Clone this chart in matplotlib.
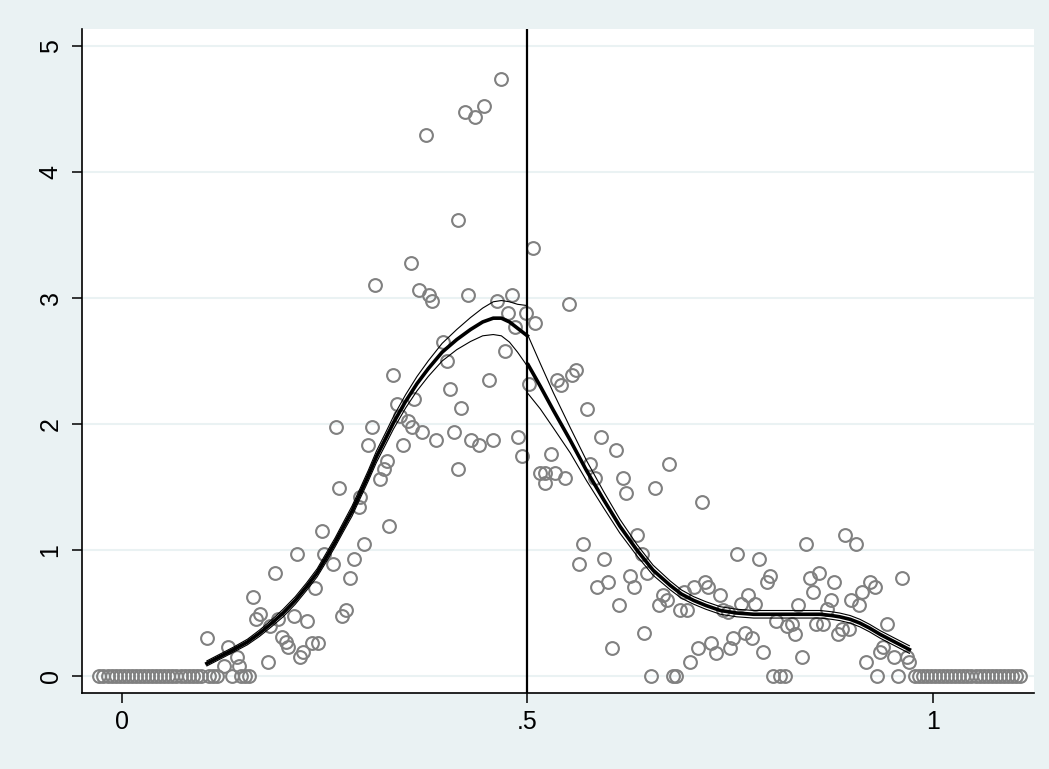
import numpy as np
import matplotlib.pyplot as plt

plt.rcParams['font.family'] = ['Liberation Sans', 'DejaVu Sans']

# Binned density points (x = bin midpoint, y = density)
pts_x = [0.105, 0.126, 0.131, 0.136, 0.142, 0.145, 0.162, 0.166, 0.170, 0.180,
         0.183, 0.189, 0.193, 0.197, 0.203, 0.205, 0.212, 0.216, 0.220, 0.224,
         0.228, 0.234, 0.238, 0.242, 0.247, 0.249, 0.260, 0.264, 0.268, 0.272,
         0.277, 0.281, 0.286, 0.292, 0.294, 0.299, 0.304, 0.308, 0.312, 0.318,
         0.323, 0.327, 0.330, 0.335, 0.339, 0.343, 0.347, 0.353, 0.357, 0.358,
         0.360, 0.366, 0.370, 0.375, 0.379, 0.383, 0.387, 0.396, 0.401, 0.405,
         0.410, 0.414, 0.415, 0.418, 0.423, 0.427, 0.431, 0.436, 0.441, 0.446,
         0.453, 0.458, 0.463, 0.467, 0.472, 0.476, 0.481, 0.485, 0.489, 0.494,
         0.498,
         0.502, 0.507, 0.510, 0.516, 0.522, 0.522, 0.529, 0.534, 0.537, 0.542,
         0.546, 0.551, 0.555, 0.560, 0.564, 0.569, 0.573, 0.577, 0.583, 0.586,
         0.591, 0.595, 0.600, 0.604, 0.609, 0.613, 0.618, 0.622, 0.626, 0.631,
         0.635, 0.641, 0.644, 0.647, 0.652, 0.657, 0.662, 0.667, 0.672, 0.675,
         0.680, 0.683, 0.688, 0.693, 0.697, 0.701, 0.705, 0.710, 0.715, 0.719,
         0.723, 0.727, 0.732, 0.737, 0.741, 0.748, 0.750, 0.754, 0.759, 0.763,
         0.768, 0.772, 0.777, 0.781, 0.785, 0.790, 0.795, 0.799, 0.803, 0.807,
         0.811, 0.818, 0.820, 0.826, 0.830, 0.834, 0.838, 0.844, 0.848, 0.852,
         0.856, 0.860, 0.865, 0.869, 0.874, 0.878, 0.883, 0.888, 0.892, 0.897,
         0.899, 0.905, 0.909, 0.913, 0.918, 0.922, 0.928, 0.931, 0.935, 0.939,
         0.944, 0.952, 0.957, 0.962, 0.968, 0.971]
pts_y = [0.30, 0.08, 0.23, 0.00, 0.15, 0.08, 0.63, 0.45, 0.49, 0.11,
         0.40, 0.82, 0.45, 0.31, 0.27, 0.23, 0.48, 0.97, 0.15, 0.19,
         0.44, 0.26, 0.70, 0.26, 1.15, 0.97, 0.89, 1.98, 1.49, 0.48,
         0.52, 0.78, 0.93, 1.34, 1.42, 1.05, 1.83, 1.98, 3.10, 1.56,
         1.64, 1.71, 1.19, 2.39, 2.16, 2.06, 1.83, 2.02, 3.28, 1.98,
         2.20, 3.06, 1.94, 4.29, 3.02, 2.98, 1.87, 2.65, 2.50, 2.28,
         1.94, 1.64, 3.62, 2.13, 4.48, 3.02, 1.87, 4.44, 1.83, 4.52,
         2.35, 1.87, 2.98, 4.74, 2.58, 2.88, 3.02, 2.77, 1.90, 1.75,
         2.88,
         2.32, 3.40, 2.80, 1.61, 1.61, 1.53, 1.76, 1.61, 2.35, 2.31,
         1.57, 2.95, 2.39, 2.43, 0.89, 1.05, 2.12, 1.68, 1.57, 0.71,
         1.90, 0.93, 0.75, 0.22, 1.79, 0.56, 1.57, 1.45, 0.79, 0.71,
         1.12, 0.97, 0.34, 0.82, 0.00, 1.49, 0.56, 0.64, 0.60, 1.68,
         0.00, 0.00, 0.52, 0.67, 0.52, 0.11, 0.71, 0.22, 1.38, 0.75,
         0.71, 0.26, 0.18, 0.64, 0.52, 0.51, 0.22, 0.30, 0.97, 0.57,
         0.34, 0.64, 0.30, 0.57, 0.93, 0.19, 0.75, 0.79, 0.00, 0.44,
         0.00, 0.00, 0.40, 0.41, 0.33, 0.56, 0.15, 1.05, 0.78, 0.67,
         0.41, 0.82, 0.41, 0.53, 0.60, 0.75, 0.33, 0.37, 1.12, 0.37,
         0.60, 1.05, 0.56, 0.67, 0.11, 0.75, 0.71, 0.00, 0.19, 0.23,
         0.41, 0.15, 0.00, 0.78, 0.15, 0.11]

# Empty bins at both ends
zero_x = [-0.0275, -0.0225, -0.0175, -0.0125, -0.0075, -0.0025, 0.0025, 0.0075,
          0.0125, 0.0175, 0.0225, 0.0275, 0.0325, 0.0375, 0.0425, 0.0475,
          0.0525, 0.0575, 0.0625, 0.0675, 0.0725, 0.0775, 0.0825, 0.0875,
          0.0925, 0.0975, 0.1075, 0.1125, 0.1175, 0.1475, 0.1525, 0.1575,
          0.9775, 0.9825, 0.9875, 0.9925, 0.9975, 1.0025, 1.0075, 1.0125,
          1.0175, 1.0225, 1.0275, 1.0325, 1.0375, 1.0425, 1.0475, 1.0525,
          1.0575, 1.0625, 1.0675, 1.0725, 1.0775, 1.0825, 1.0875, 1.0925,
          1.0975, 1.1025, 1.1075]

# Local linear fit left of cutoff, with CI half-width
fitL_x = [0.105, 0.12, 0.138, 0.155, 0.170, 0.185, 0.199, 0.214, 0.228, 0.241,
          0.253, 0.263, 0.273, 0.284, 0.294, 0.304, 0.314, 0.325, 0.335, 0.350,
          0.364, 0.378, 0.395, 0.413, 0.430, 0.445, 0.458, 0.468, 0.478, 0.488,
          0.50]
fitL_y = [0.10, 0.15, 0.21, 0.27, 0.34, 0.42, 0.50, 0.60, 0.71, 0.82,
          0.95, 1.06, 1.18, 1.31, 1.45, 1.59, 1.74, 1.88, 2.01, 2.18,
          2.32, 2.44, 2.57, 2.67, 2.75, 2.81, 2.84, 2.84, 2.81, 2.76,
          2.70]
ciL = [0.02, 0.02, 0.02, 0.022, 0.025, 0.027, 0.03, 0.03, 0.03, 0.032,
       0.035, 0.035, 0.037, 0.04, 0.04, 0.042, 0.045, 0.047, 0.05, 0.053,
       0.057, 0.062, 0.07, 0.08, 0.095, 0.11, 0.13, 0.14, 0.16, 0.19,
       0.24]

# Fit right of cutoff
fitR_x = [0.501, 0.516, 0.532, 0.553, 0.573, 0.594, 0.614, 0.635, 0.655, 0.676,
          0.690, 0.705, 0.720, 0.738, 0.758, 0.779, 0.800, 0.820, 0.840, 0.861,
          0.875, 0.885, 0.898, 0.910, 0.922, 0.935, 0.953, 0.971]
fitR_y = [2.47, 2.30, 2.11, 1.87, 1.63, 1.40, 1.19, 1.00, 0.84, 0.72,
          0.65, 0.60, 0.56, 0.52, 0.50, 0.49, 0.49, 0.49, 0.49, 0.49,
          0.48, 0.47, 0.45, 0.42, 0.38, 0.33, 0.27, 0.21]
ciR = [0.23, 0.18, 0.14, 0.10, 0.08, 0.065, 0.055, 0.045, 0.04, 0.035,
       0.033, 0.03, 0.03, 0.03, 0.03, 0.03, 0.03, 0.03, 0.03, 0.03,
       0.03, 0.03, 0.03, 0.03, 0.03, 0.03, 0.03, 0.03]

cutoff = 0.5
bg = '#EAF2F3'

fig = plt.figure(figsize=(10.49, 7.69), dpi=100, facecolor=bg)
ax = fig.add_axes([0.0782, 0.0988, 0.9075, 0.8635])
ax.set_facecolor('white')

ax.plot(pts_x + zero_x, pts_y + [0] * len(zero_x), 'o', mfc='none', mec='#808080',
        ms=9.2, mew=1.5, zorder=3)

for fx, fy, ci in [(fitL_x, fitL_y, ciL), (fitR_x, fitR_y, ciR)]:
    fx = np.array(fx); fy = np.array(fy); ci = np.array(ci)
    ax.plot(fx, fy, color='black', lw=2.6, zorder=4, solid_joinstyle='round')
    ax.plot(fx, fy + ci, color='black', lw=0.8, zorder=4)
    ax.plot(fx, fy - ci, color='black', lw=0.8, zorder=4)

ax.axvline(cutoff, color='black', lw=1.6, zorder=5)

ax.set_xlim(-0.0489, 1.1246)
ax.set_ylim(-0.135, 5.135)
ax.set_xticks([0, 0.5, 1])
ax.set_xticklabels(['0', '.5', '1'])
ax.set_yticks([0, 1, 2, 3, 4, 5])
ax.set_yticklabels(['0', '1', '2', '3', '4', '5'], rotation=90, va='center')
ax.tick_params(axis='both', length=7, width=1.1, labelsize=18, color='black')
ax.tick_params(axis='x', pad=5)
ax.tick_params(axis='y', pad=7)
ax.grid(axis='y', color=bg, lw=1.5, zorder=0)
ax.set_axisbelow(True)
for s in ['top', 'right']:
    ax.spines[s].set_visible(False)
for s in ['left', 'bottom']:
    ax.spines[s].set_linewidth(1.2)

fig.savefig('out.png', dpi=100, facecolor=bg)
